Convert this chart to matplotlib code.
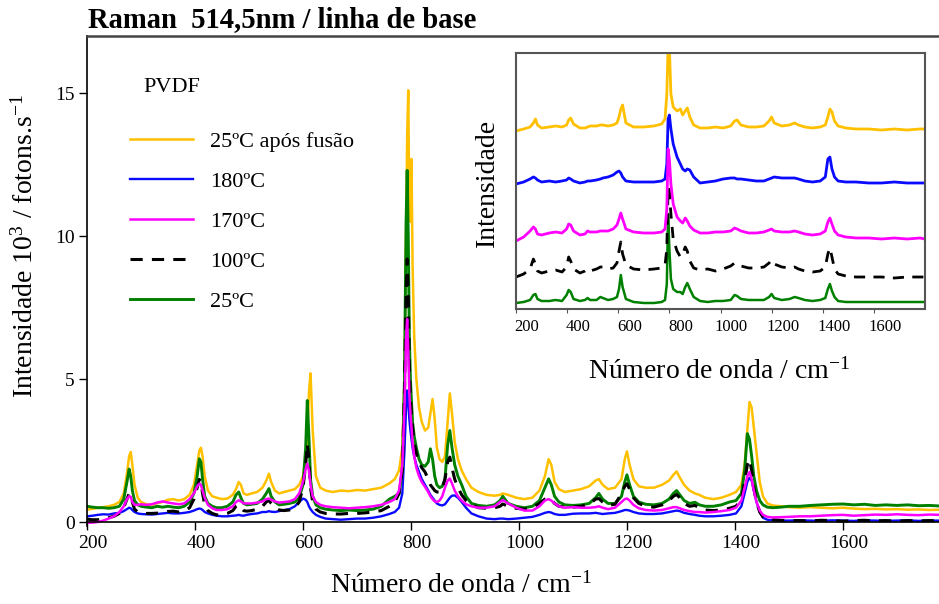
import matplotlib
matplotlib.use('Agg')
import matplotlib.pyplot as plt
from matplotlib.transforms import ScaledTranslation

plt.rcParams['font.family'] = ['Liberation Serif', 'DejaVu Serif']
plt.rcParams['mathtext.fontset'] = 'custom'
plt.rcParams['mathtext.rm'] = 'Liberation Serif'
plt.rcParams['mathtext.it'] = 'Liberation Serif:italic'
plt.rcParams['mathtext.bf'] = 'Liberation Serif:bold'

# ---- main spectra (10^3 fotons/s) ----
wn = [200, 210, 220, 230, 240, 250, 260, 268, 274, 278, 281, 284, 288, 294, 300,
      310, 320, 330, 340, 350, 360, 370, 380, 390, 398, 404, 408, 411, 414, 418, 424, 432, 440, 450,
      460, 470, 476, 481, 485, 490, 496, 505, 515, 525, 532, 537, 541, 548, 556, 565, 575, 585, 593, 600,
      605, 608, 611, 614, 618, 624, 632, 642, 655, 670, 685, 700, 715, 730, 745, 760, 770, 778,
      784, 788, 791, 793, 795, 797, 799, 801, 803, 806, 810, 815, 820, 826, 832, 836, 840,
      844, 848, 853, 858, 863, 868, 872, 876, 881, 887, 894, 902, 912, 925, 940, 955, 965, 970, 980, 995,
      1010, 1025, 1038, 1048, 1055, 1060, 1066, 1074, 1085, 1100, 1115, 1130, 1142, 1148, 1155, 1165, 1178, 1190, 1196, 1200,
      1205, 1212, 1222, 1235, 1250, 1265, 1278, 1286, 1292, 1298, 1306, 1316, 1326, 1334, 1345, 1360, 1375, 1390, 1402,
      1412, 1418, 1423, 1427, 1431, 1435, 1440, 1446, 1452, 1460, 1470, 1485, 1500,
      1520, 1540, 1560, 1580, 1600, 1620, 1640, 1660, 1680, 1700, 1720, 1740, 1760, 1780]

t25_fusao = [0.43, 0.46, 0.50, 0.52, 0.55, 0.60, 0.70, 1.00, 1.70, 2.30, 2.45, 2.00, 1.30, 0.85, 0.70,
             0.62, 0.60, 0.66, 0.70, 0.78, 0.80, 0.75, 0.80, 0.95, 1.30, 2.00, 2.50, 2.60, 2.30, 1.60, 1.10, 0.90, 0.85, 0.80,
             0.82, 0.95, 1.15, 1.40, 1.30, 1.00, 0.95, 1.00, 1.05, 1.20, 1.45, 1.69, 1.40, 1.10, 1.00, 1.05, 1.10, 1.15, 1.30, 1.60,
             2.20, 3.00, 4.50, 5.20, 3.20, 1.60, 1.20, 1.10, 1.05, 1.10, 1.08, 1.12, 1.10, 1.15, 1.20, 1.35, 1.50, 1.80,
             2.60, 5.00, 10.0, 13.5, 15.1, 11.0, 10.5, 12.7, 9.00, 6.50, 5.00, 4.00, 3.50, 3.20, 3.30, 3.80, 4.30,
             3.60, 2.60, 2.20, 2.10, 2.30, 3.50, 4.50, 3.80, 2.80, 2.20, 1.80, 1.50, 1.20, 1.05, 0.95, 0.92, 0.95, 1.00, 0.95, 0.85,
             0.80, 0.85, 1.10, 1.60, 2.20, 2.00, 1.40, 1.15, 1.05, 1.10, 1.15, 1.25, 1.45, 1.50, 1.30, 1.15, 1.20, 1.50, 2.20, 2.47,
             2.00, 1.50, 1.25, 1.20, 1.20, 1.30, 1.45, 1.65, 1.77, 1.55, 1.30, 1.10, 1.00, 0.95, 0.85, 0.80, 0.85, 0.95, 1.05,
             1.30, 2.00, 3.20, 4.20, 4.00, 3.30, 2.40, 1.40, 0.90, 0.65, 0.58, 0.55, 0.52,
             0.50, 0.52, 0.50, 0.48, 0.50, 0.47, 0.45, 0.46, 0.44, 0.45, 0.43, 0.44, 0.42, 0.43]

t180 = [0.20, 0.22, 0.25, 0.27, 0.26, 0.30, 0.32, 0.38, 0.45, 0.50, 0.48, 0.42, 0.35, 0.30, 0.28,
        0.27, 0.26, 0.28, 0.30, 0.32, 0.30, 0.30, 0.32, 0.35, 0.40, 0.45, 0.47, 0.46, 0.42, 0.35, 0.30, 0.25, 0.22, 0.20,
        0.20, 0.22, 0.23, 0.25, 0.23, 0.22, 0.25, 0.28, 0.30, 0.35, 0.35, 0.38, 0.36, 0.35, 0.38, 0.42, 0.45, 0.55, 0.70, 0.82,
        0.78, 0.70, 0.55, 0.45, 0.35, 0.25, 0.18, 0.12, 0.10, 0.08, 0.10, 0.12, 0.12, 0.15, 0.20, 0.28, 0.35, 0.50,
        1.00, 2.50, 4.00, 4.60, 4.20, 3.60, 3.20, 2.90, 2.60, 2.30, 2.00, 1.75, 1.50, 1.30, 1.10, 0.95, 0.85,
        0.75, 0.65, 0.60, 0.58, 0.62, 0.75, 0.85, 0.92, 0.93, 0.85, 0.70, 0.50, 0.30, 0.20, 0.12, 0.10, 0.12, 0.12, 0.10, 0.12,
        0.15, 0.18, 0.25, 0.32, 0.35, 0.33, 0.28, 0.25, 0.25, 0.29, 0.30, 0.30, 0.32, 0.30, 0.28, 0.30, 0.32, 0.38, 0.42, 0.42,
        0.40, 0.35, 0.30, 0.28, 0.28, 0.30, 0.35, 0.38, 0.40, 0.38, 0.32, 0.28, 0.25, 0.22, 0.20, 0.20, 0.22, 0.25, 0.30,
        0.55, 1.00, 1.40, 1.55, 1.45, 1.10, 0.70, 0.35, 0.15, 0.08, 0.06, 0.05, 0.05,
        0.06, 0.05, 0.04, 0.06, 0.05, 0.04, 0.06, 0.05, 0.04, 0.05, 0.06, 0.04, 0.05, 0.05]

t170 = [-0.03, -0.02, 0.00, 0.05, 0.12, 0.20, 0.35, 0.55, 0.80, 0.90, 0.88, 0.70, 0.60, 0.60, 0.62,
        0.60, 0.62, 0.68, 0.72, 0.68, 0.65, 0.62, 0.65, 0.80, 1.00, 1.25, 1.34, 1.30, 1.10, 0.85, 0.60, 0.48, 0.42, 0.42,
        0.45, 0.55, 0.70, 0.76, 0.72, 0.65, 0.65, 0.65, 0.68, 0.72, 0.80, 0.82, 0.78, 0.72, 0.68, 0.70, 0.72, 0.80, 1.00, 1.40,
        1.85, 2.04, 1.80, 1.30, 0.90, 0.70, 0.60, 0.55, 0.52, 0.50, 0.48, 0.50, 0.52, 0.55, 0.60, 0.70, 0.80, 1.10,
        2.00, 4.00, 6.50, 7.10, 6.00, 4.50, 3.80, 3.30, 2.80, 2.30, 1.90, 1.60, 1.40, 1.23, 1.05, 0.90, 0.80,
        0.72, 0.70, 0.75, 0.90, 1.20, 1.45, 1.52, 1.35, 1.10, 0.90, 0.75, 0.62, 0.55, 0.50, 0.50, 0.55, 0.70, 0.77, 0.65, 0.50,
        0.40, 0.40, 0.55, 0.75, 0.80, 0.75, 0.65, 0.55, 0.50, 0.52, 0.50, 0.50, 0.52, 0.55, 0.50, 0.45, 0.50, 0.70, 0.80, 0.82,
        0.75, 0.60, 0.48, 0.42, 0.40, 0.42, 0.48, 0.52, 0.52, 0.48, 0.42, 0.38, 0.35, 0.35, 0.33, 0.35, 0.38, 0.42, 0.50,
        0.75, 1.20, 1.60, 1.75, 1.50, 1.10, 0.70, 0.40, 0.25, 0.18, 0.16, 0.17, 0.18,
        0.20, 0.20, 0.22, 0.24, 0.25, 0.22, 0.24, 0.26, 0.25, 0.27, 0.25, 0.24, 0.26, 0.25]

t100 = [0.10, 0.08, 0.08, 0.10, 0.15, 0.20, 0.30, 0.50, 0.80, 1.00, 0.95, 0.70, 0.45, 0.35, 0.32,
        0.30, 0.30, 0.31, 0.35, 0.37, 0.38, 0.35, 0.38, 0.50, 0.80, 1.20, 1.49, 1.40, 1.00, 0.60, 0.40, 0.30, 0.25, 0.25,
        0.30, 0.40, 0.55, 0.60, 0.50, 0.40, 0.38, 0.40, 0.45, 0.55, 0.70, 0.76, 0.65, 0.50, 0.42, 0.40, 0.42, 0.50, 0.70, 1.20,
        2.00, 2.74, 2.20, 1.20, 0.70, 0.45, 0.35, 0.30, 0.28, 0.28, 0.30, 0.30, 0.32, 0.35, 0.40, 0.55, 0.70, 1.00,
        1.80, 4.50, 8.00, 9.20, 8.00, 5.50, 4.30, 3.80, 3.30, 2.80, 2.40, 2.10, 1.90, 1.75, 1.50, 1.30, 1.20,
        1.10, 1.05, 1.05, 1.15, 1.50, 2.10, 2.27, 1.90, 1.50, 1.20, 0.95, 0.75, 0.60, 0.50, 0.48, 0.50, 0.55, 0.63, 0.55, 0.48,
        0.45, 0.50, 0.65, 0.80, 0.84, 0.78, 0.65, 0.55, 0.52, 0.52, 0.55, 0.62, 0.80, 0.82, 0.70, 0.58, 0.62, 1.00, 1.25, 1.34,
        1.15, 0.85, 0.65, 0.55, 0.52, 0.60, 0.75, 0.90, 0.96, 0.85, 0.65, 0.55, 0.58, 0.50, 0.42, 0.40, 0.42, 0.48, 0.55,
        0.80, 1.40, 2.00, 2.19, 1.80, 1.20, 0.70, 0.35, 0.18, 0.10, 0.08, 0.06, 0.05,
        0.05, 0.04, 0.06, 0.05, 0.03, 0.05, 0.06, 0.04, 0.05, 0.03, 0.05, 0.04, 0.05, 0.04]

t25 = [0.55, 0.52, 0.50, 0.50, 0.48, 0.50, 0.55, 0.80, 1.40, 1.85, 1.60, 1.10, 0.75, 0.60, 0.55,
       0.52, 0.50, 0.55, 0.52, 0.55, 0.52, 0.50, 0.55, 0.70, 1.00, 1.60, 2.21, 2.10, 1.50, 0.90, 0.65, 0.55, 0.50, 0.50,
       0.55, 0.70, 0.95, 1.05, 0.85, 0.65, 0.60, 0.62, 0.65, 0.80, 1.00, 1.17, 0.90, 0.70, 0.60, 0.62, 0.65, 0.70, 0.85, 1.30,
       2.60, 4.25, 3.00, 1.50, 0.90, 0.60, 0.50, 0.45, 0.42, 0.40, 0.42, 0.40, 0.42, 0.45, 0.55, 0.80, 0.90, 1.00,
       1.80, 5.00, 10.5, 12.3, 10.0, 6.50, 5.00, 4.20, 3.50, 3.00, 2.60, 2.20, 2.00, 1.95, 2.10, 2.56, 2.20,
       1.60, 1.30, 1.20, 1.25, 1.50, 2.70, 3.20, 2.60, 2.00, 1.60, 1.30, 0.90, 0.65, 0.58, 0.55, 0.60, 0.75, 0.90, 0.65, 0.55,
       0.50, 0.55, 0.75, 1.20, 1.51, 1.30, 0.90, 0.70, 0.60, 0.58, 0.60, 0.65, 0.85, 1.00, 0.80, 0.65, 0.65, 0.90, 1.40, 1.65,
       1.30, 0.90, 0.70, 0.62, 0.60, 0.65, 0.80, 1.00, 1.10, 0.95, 0.75, 0.65, 0.69, 0.60, 0.55, 0.55, 0.60, 0.70, 0.75,
       1.00, 1.80, 3.09, 2.90, 2.30, 1.60, 1.10, 0.75, 0.60, 0.52, 0.50, 0.52, 0.55,
       0.55, 0.58, 0.60, 0.62, 0.63, 0.60, 0.62, 0.58, 0.60, 0.58, 0.60, 0.57, 0.58, 0.56]

# ---- inset (arbitrary units, stacked) ----
wn_in = [200, 230, 255, 268, 276, 284, 300, 330, 355, 380,
         398, 406, 414, 425, 450, 470, 480, 490, 515, 530,
         540, 560, 580, 595, 603, 610, 617, 630, 660, 700,
         740, 770, 783, 790, 795, 800, 806, 815, 830, 843,
         852, 862, 870, 880, 895, 920, 950, 980, 1010, 1040,
         1055, 1065, 1080, 1110, 1140, 1170, 1190, 1200, 1210, 1240,
         1270, 1290, 1305, 1330, 1360, 1390, 1410, 1420, 1428, 1436,
         1446, 1460, 1490, 1530, 1580, 1630, 1680, 1730, 1780, 1800]

in_25_fusao = [178, 180, 182, 186, 190, 184, 181, 182, 183, 182,
               184, 189, 191, 185, 181, 181, 182, 183, 183, 184,
               184, 183, 184, 186, 192, 200, 204, 186, 182, 182,
               183, 185, 190, 215, 262, 262, 215, 202, 198, 200,
               194, 198, 201, 192, 184, 181, 181, 182, 181, 183,
               188, 189, 184, 182, 182, 183, 188, 192, 186, 183,
               184, 186, 184, 182, 181, 182, 184, 192, 200, 197,
               188, 183, 181, 180, 180, 179, 180, 179, 180, 180]

in_180 = [125, 127, 130, 132, 131, 129, 127, 128, 127, 128,
          129, 131, 130, 128, 126, 127, 128, 128, 129, 130,
          131, 132, 134, 137, 138, 136, 132, 128, 127, 127,
          127, 128, 130, 145, 190, 194, 180, 165, 152, 145,
          140, 138, 140, 139, 132, 126, 127, 128, 130, 131,
          131, 130, 130, 129, 128, 128, 130, 131, 132, 131,
          131, 131, 130, 128, 127, 128, 132, 150, 152, 140,
          132, 128, 127, 127, 126, 126, 127, 126, 126, 126]

in_170 = [68, 72, 78, 82, 80, 75, 74, 76, 77, 76,
          80, 85, 84, 78, 74, 75, 78, 77, 77, 78,
          78, 78, 80, 84, 90, 96, 90, 80, 77, 76,
          76, 77, 80, 100, 160, 150, 125, 105, 92, 88,
          86, 91, 88, 83, 79, 76, 76, 77, 77, 78,
          81, 80, 78, 76, 76, 77, 79, 80, 78, 77,
          77, 78, 77, 75, 74, 75, 78, 87, 91, 85,
          78, 74, 72, 71, 71, 70, 71, 70, 71, 70]

in_100 = [32, 35, 40, 50, 45, 38, 36, 38, 39, 37,
          42, 52, 48, 40, 36, 38, 40, 38, 40, 42,
          42, 40, 41, 46, 58, 67, 55, 44, 40, 39,
          40, 41, 44, 60, 122, 118, 95, 70, 58, 52,
          55, 62, 58, 48, 41, 39, 40, 38, 40, 43,
          46, 45, 43, 41, 41, 42, 46, 49, 45, 42,
          41, 42, 40, 38, 37, 38, 42, 55, 61, 52,
          40, 35, 33, 32, 32, 32, 31, 32, 32, 32]

in_25 = [6, 7, 9, 14, 15, 10, 8, 8, 9, 8,
         14, 19, 17, 10, 8, 9, 11, 9, 9, 12,
         11, 9, 10, 12, 20, 34, 22, 10, 7, 6,
         6, 7, 9, 25, 95, 60, 30, 20, 17, 17,
         15, 22, 26, 20, 12, 8, 7, 8, 8, 9,
         14, 13, 10, 9, 9, 9, 12, 15, 11, 9,
         10, 12, 11, 9, 8, 9, 11, 20, 25, 18,
         12, 8, 7, 7, 7, 7, 7, 7, 7, 7]

labels = ['25ºC após fusão', '180ºC', '170ºC', '100ºC', '25ºC']
x_ticks = [200, 400, 600, 800, 1000, 1200, 1400, 1600]
y_ticks = [0, 5, 10, 15]

c_yel, c_blu, c_mag, c_blk, c_grn = '#FFC000', '#0A0AFF', '#FF00FF', 'black', '#008000'
dash = (0, (4, 3))

W, H = 939, 604
fig = plt.figure(figsize=(W / 100, H / 100), dpi=100)


def box(l, t, r, b):
    # pixel box -> figure fraction
    return [l / W, 1 - b / H, (r - l) / W, (b - t) / H]


ax = fig.add_axes(box(87, 36, 939, 526.3))
ly, = ax.plot(wn, t25_fusao, color=c_yel, lw=1.8)
lb, = ax.plot(wn, t180, color=c_blu, lw=1.7)
lg, = ax.plot(wn, t25, color=c_grn, lw=2.1)
lk, = ax.plot(wn, t100, color=c_blk, lw=2.2, ls=dash)
lm, = ax.plot(wn, t170, color=c_mag, lw=1.8)

ax.set_xlim(200, 1778)
ax.set_ylim(-0.15, 17.0)
ax.set_xticks(x_ticks)
ax.set_yticks(y_ticks)
ax.spines['right'].set_visible(False)
ax.spines['bottom'].set_position(('data', 0))
ax.spines['top'].set_color('#444444')
ax.spines['top'].set_linewidth(1.8)
ax.spines['left'].set_linewidth(1.2)
ax.spines['bottom'].set_linewidth(1.2)
ax.tick_params(direction='out', length=6, width=1, labelsize=14, pad=3)
for lab in ax.get_xticklabels():
    lab.set_transform(lab.get_transform() + ScaledTranslation(0.06, 0, fig.dpi_scale_trans))

ax.legend([ly, lb, lm, lk, lg], labels, loc='upper left', frameon=False,
          bbox_to_anchor=(130 / W, 1 - 131 / H), bbox_transform=fig.transFigure,
          borderpad=0, borderaxespad=0, handlelength=2.84, handletextpad=0.77,
          labelspacing=0.88, fontsize=16)
fig.text(143 / W, 1 - 88 / H, 'PVDF', fontsize=16, ha='left', va='center')

fig.text(88 / W, 1 - 20 / H, 'Raman  514,5nm / linha de base', fontsize=20.6,
         fontweight='bold', ha='left', va='center')
fig.text(461 / W, 1 - 585 / H, 'Número de onda / cm$^{-1}$', fontsize=20,
         ha='center', va='center')
fig.text(25 / W, 1 - 246 / H, 'Intensidade 10$^3$ / fotons.s$^{-1}$', fontsize=20,
         rotation=90, ha='center', va='center')

# inset
ins = fig.add_axes(box(516, 53, 925, 309))
ins.plot(wn_in, in_25_fusao, color=c_yel, lw=2.0)
ins.plot(wn_in, in_180, color=c_blu, lw=2.0)
ins.plot(wn_in, in_25, color=c_grn, lw=1.8)
ins.plot(wn_in, in_100, color=c_blk, lw=2.0, ls=dash)
ins.plot(wn_in, in_170, color=c_mag, lw=2.0)
ins.set_xlim(200, 1800)
ins.set_ylim(0, 256)
ins.set_xticks(x_ticks)
ins.set_yticks([])
for s in ins.spines.values():
    s.set_color('#555555')
    s.set_linewidth(1.5)
ins.tick_params(axis='x', direction='out', length=3, color='#555555', labelsize=12, pad=4)
for lab in ins.get_xticklabels():
    lab.set_transform(lab.get_transform() + ScaledTranslation(0.11, 0, fig.dpi_scale_trans))
fig.text(719 / W, 1 - 371 / H, 'Número de onda / cm$^{-1}$', fontsize=20,
         ha='center', va='center')
fig.text(487 / W, 1 - 183 / H, 'Intensidade', fontsize=20, rotation=90,
         ha='center', va='center')

fig.savefig('out.png', dpi=100)
